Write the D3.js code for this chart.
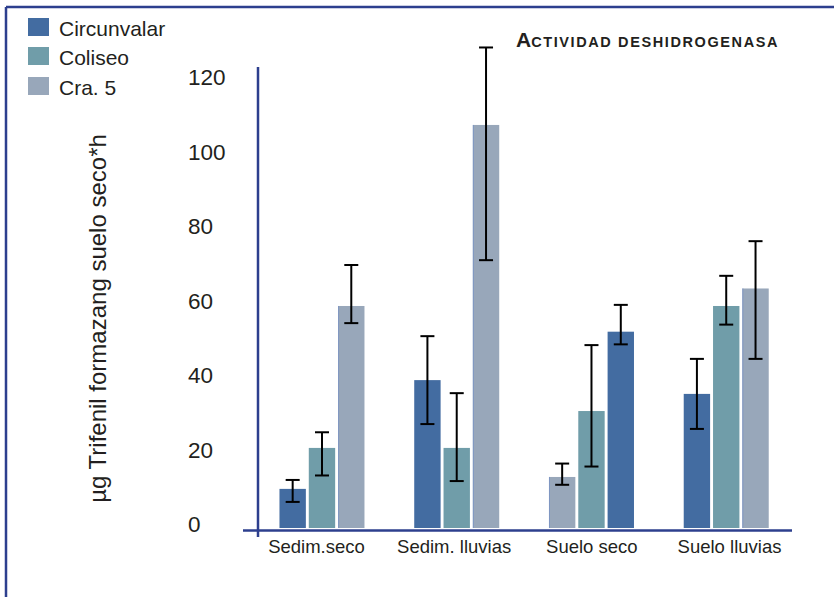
<!DOCTYPE html>
<html>
<head>
<meta charset="utf-8">
<script src="https://cdn.jsdelivr.net/npm/d3@7/dist/d3.min.js"></script>
<style>
  html, body { margin: 0; padding: 0; background: #fff; }
  svg text { font-family: "Liberation Sans", Arial, Helvetica, sans-serif; fill: #231f20; }
</style>
</head>
<body>
<svg id="chart" width="834" height="597"></svg>
<script>
// Actividad deshidrogenasa por sitio y condición
const categories = ["Sedim.seco", "Sedim. lluvias", "Suelo seco", "Suelo lluvias"];
const seriesNames = ["Circunvalar", "Coliseo", "Cra. 5"];
const seriesColors = ["#436ca1", "#709da9", "#98a7ba"];

// mean value per series, one entry per category
const circunvalar = [10.5, 39.7, 52.7, 36.0];
const coliseo     = [21.5, 21.5, 31.4, 59.6];
const cra5        = [59.6, 108.2, 13.7, 64.3];

// error bar ends (upper / lower) per series
const circunvalarHi = [12.9, 51.5, 59.9, 45.4];
const circunvalarLo = [7.0, 27.9, 49.3, 26.6];
const coliseoHi     = [25.7, 36.2, 49.1, 67.7];
const coliseoLo     = [14.1, 12.6, 16.5, 54.6];
const cra5Hi        = [70.6, 129.0, 17.3, 77.0];
const cra5Lo        = [55.0, 71.9, 11.6, 45.4];

// order in which the series' bars appear inside each category
const barOrder = [[0, 1, 2], [0, 1, 2], [2, 1, 0], [0, 1, 2]];

const yTicks = [0, 20, 40, 60, 80, 100, 120];

const values = [circunvalar, coliseo, cra5];
const highs = [circunvalarHi, coliseoHi, cra5Hi];
const lows = [circunvalarLo, coliseoLo, cra5Lo];

const axisColor = "#2d3f8e";
const svg = d3.select("#chart");

const y = d3.scaleLinear().domain([0, 120]).range([528, 81]);
const x = d3.scaleBand().domain(categories).range([254.6, 793.6]).padding(0);
const groupWidth = 85;
const inner = d3.scaleBand().domain([0, 1, 2]).range([0, groupWidth]).paddingInner(0.1);
// category label anchors
const xLabel = d3.scalePoint().domain(categories).range([316.5, 729.5]);

// outer frame (top and left edges)
svg.append("line").attr("x1", 6).attr("x2", 834).attr("y1", 7).attr("y2", 7)
  .attr("stroke", axisColor).attr("stroke-width", 2.5);
svg.append("line").attr("x1", 6).attr("x2", 6).attr("y1", 7).attr("y2", 597)
  .attr("stroke", axisColor).attr("stroke-width", 2.5);

// flatten into bar records
const bars = [];
categories.forEach((c, ci) => {
  barOrder[ci].forEach((s, pos) => {
    bars.push({ cat: c, series: s, pos: pos, v: values[s][ci], hi: highs[s][ci], lo: lows[s][ci] });
  });
});

const barX = d => x(d.cat) + (x.bandwidth() - groupWidth) / 2 + inner(d.pos);

svg.append("g").selectAll("rect").data(bars).join("rect")
  .attr("x", barX)
  .attr("y", d => y(d.v))
  .attr("width", inner.bandwidth())
  .attr("height", d => y(0) - y(d.v))
  .attr("fill", d => seriesColors[d.series]);

// faint bluish left edge on the light bars
svg.append("g").selectAll("line").data(bars.filter(d => d.series === 2)).join("line")
  .attr("x1", d => barX(d) + 0.5).attr("x2", d => barX(d) + 0.5)
  .attr("y1", d => y(d.v)).attr("y2", y(0))
  .attr("stroke", "#7f96c2").attr("stroke-width", 1);

// error bars
const eb = svg.append("g").attr("stroke", "#000").attr("stroke-width", 2);
const cx = d => barX(d) + inner.bandwidth() / 2;
eb.selectAll("line.v").data(bars).join("line").attr("class", "v")
  .attr("x1", cx).attr("x2", cx).attr("y1", d => y(d.hi)).attr("y2", d => y(d.lo));
eb.selectAll("line.t").data(bars).join("line").attr("class", "t")
  .attr("x1", d => cx(d) - 7).attr("x2", d => cx(d) + 7).attr("y1", d => y(d.hi)).attr("y2", d => y(d.hi));
eb.selectAll("line.b").data(bars).join("line").attr("class", "b")
  .attr("x1", d => cx(d) - 7).attr("x2", d => cx(d) + 7).attr("y1", d => y(d.lo)).attr("y2", d => y(d.lo));

// axes lines
svg.append("line").attr("x1", 258).attr("x2", 258).attr("y1", 67).attr("y2", 537)
  .attr("stroke", axisColor).attr("stroke-width", 2.5);
svg.append("line").attr("x1", 243).attr("x2", 792).attr("y1", 530.5).attr("y2", 530.5)
  .attr("stroke", axisColor).attr("stroke-width", 2.5);

// y tick labels (left aligned)
svg.append("g").selectAll("text").data(yTicks).join("text")
  .attr("x", 188).attr("y", d => y(d) - 3.5)
  .attr("dominant-baseline", "central")
  .attr("font-size", 22.5)
  .text(d => d);

// category labels
svg.append("g").selectAll("text").data(categories).join("text")
  .attr("x", d => xLabel(d))
  .attr("y", 553)
  .attr("text-anchor", "middle")
  .attr("font-size", 18.5)
  .text(d => d);

// y axis title
svg.append("text")
  .attr("transform", "translate(97,318.5) rotate(-90)")
  .attr("text-anchor", "middle")
  .attr("dominant-baseline", "central")
  .attr("font-size", 24)
  .text("µg Trifenil formazang suelo seco*h");

// title in small caps
const title = svg.append("text").attr("x", 516).attr("y", 47).attr("font-weight", "bold");
title.append("tspan").attr("font-size", 21).text("A");
title.append("tspan").attr("font-size", 14.5).attr("letter-spacing", 1.6).text("CTIVIDAD DESHIDROGENASA");

// legend
const legendY = [18, 47, 77];
const legend = svg.append("g").selectAll("g").data(seriesNames).join("g");
legend.append("rect").attr("x", 28).attr("y", (d, i) => legendY[i]).attr("width", 21).attr("height", 18)
  .attr("fill", (d, i) => seriesColors[i]);
legend.append("text").attr("x", 59).attr("y", (d, i) => legendY[i] + 18)
  .attr("font-size", 21).text(d => d);
</script>
</body>
</html>
